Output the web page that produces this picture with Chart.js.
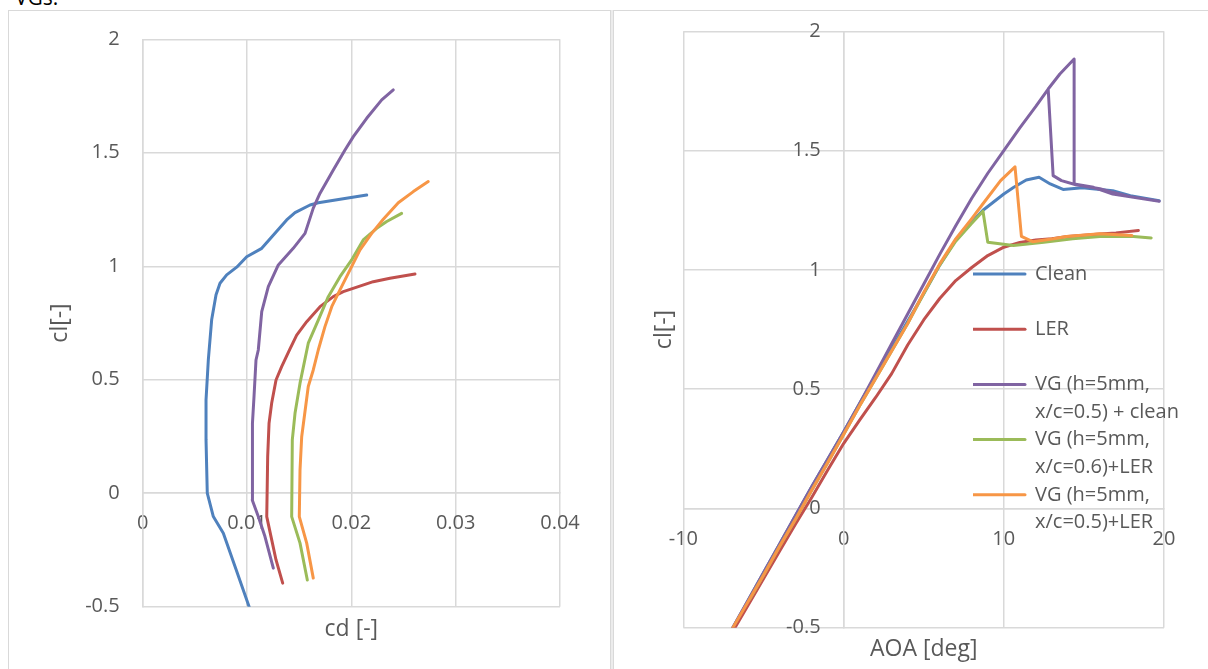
<!DOCTYPE html>
<html>
<head>
<meta charset="utf-8">
<script src="https://cdn.jsdelivr.net/npm/chart.js@4.4.1/dist/chart.umd.min.js"></script>
<style>
  html, body { margin: 0; padding: 0; background: #ffffff; }
  body { width: 1208px; height: 669px; overflow: hidden; position: relative; font-family: 'Open Sans', sans-serif; }
  #cap { position: absolute; left: 15px; top: -14px; font-size: 21px; line-height: 22px; color: #000; white-space: nowrap; }
  .rule { position: absolute; background: #d9d9d9; }
  #c1 { position: absolute; left: 0; top: 0; }
  #c2 { position: absolute; left: 613px; top: 0; }
</style>
</head>
<body>
<div id="cap">VGs.</div>
<canvas id="c1" width="610" height="669"></canvas>
<canvas id="c2" width="595" height="669"></canvas>
<div class="rule" style="left:8px;top:10px;width:1200px;height:1px;"></div>
<div class="rule" style="left:8px;top:10px;width:1px;height:659px;"></div>
<div class="rule" style="left:610px;top:10px;width:4px;height:659px;background:#ececec;"></div>
<div class="rule" style="left:610px;top:10px;width:1px;height:659px;"></div>
<div class="rule" style="left:613px;top:10px;width:1px;height:659px;"></div>
<script>
// ---------- series names / legend text ----------
const seriesNames = [
  'Clean',
  'LER',
  'VG (h=5mm, x/c=0.5) + clean',
  'VG (h=5mm, x/c=0.6)+LER',
  'VG (h=5mm, x/c=0.5)+LER'
];
const legendLines = [
  ['Clean', ''],
  ['LER', ''],
  ['VG (h=5mm,', 'x/c=0.5) + clean'],
  ['VG (h=5mm,', 'x/c=0.6)+LER'],
  ['VG (h=5mm,', 'x/c=0.5)+LER']
];

// ---------- axis titles / ticks ----------
const leftXTitle = 'cd [-]';
const leftYTitle = 'cl[-]';
const rightXTitle = 'AOA [deg]';
const rightYTitle = 'cl[-]';
const cdTicks = [0, 0.04, 0.01];      // min, max, step
const clTicks = [-0.5, 2, 0.5];
const aoaTicks = [-10, 20, 10];

// ---------- left chart: drag polars (cd, cl) ----------
const cdClean = [0.0102, 0.00885, 0.00773, 0.00677, 0.00619, 0.00607, 0.00607, 0.00629, 0.00661, 0.00703, 0.00741, 0.00805, 0.00901, 0.00997, 0.01141, 0.01268, 0.0138, 0.0146, 0.01604, 0.01683, 0.02147];
const clPolarClean = [-0.50, -0.323, -0.176, -0.103, 0.0, 0.235, 0.411, 0.587, 0.764, 0.874, 0.925, 0.962, 0.996, 1.042, 1.079, 1.145, 1.204, 1.236, 1.270, 1.280, 1.314];

const cdLER = [0.01342, 0.01278, 0.0123, 0.01189, 0.01198, 0.01211, 0.01236, 0.01278, 0.01332, 0.01412, 0.01476, 0.01572, 0.017, 0.01827, 0.01923, 0.02067, 0.0221, 0.0237, 0.0261];
const clPolarLER = [-0.396, -0.294, -0.191, -0.103, 0.161, 0.308, 0.396, 0.499, 0.558, 0.636, 0.697, 0.756, 0.822, 0.866, 0.888, 0.910, 0.932, 0.947, 0.966];

const cdVGClean = [0.01252, 0.01172, 0.01108, 0.0105, 0.0105, 0.01054, 0.01067, 0.01086, 0.01108, 0.01141, 0.01204, 0.013, 0.01443, 0.01556, 0.01635, 0.017, 0.01827, 0.01939, 0.02019, 0.02147, 0.02291, 0.02402];
const clPolarVGClean = [-0.330, -0.191, -0.103, -0.03, 0.132, 0.308, 0.426, 0.587, 0.631, 0.800, 0.910, 1.006, 1.079, 1.145, 1.256, 1.322, 1.424, 1.512, 1.571, 1.652, 1.733, 1.777];

const cdVG06LER = [0.01578, 0.01508, 0.01428, 0.01434, 0.0146, 0.01508, 0.01587, 0.01683, 0.01779, 0.01891, 0.02003, 0.02114, 0.02243, 0.02339, 0.02482];
const clPolarVG06LER = [-0.382, -0.220, -0.103, 0.235, 0.352, 0.485, 0.661, 0.763, 0.866, 0.954, 1.028, 1.116, 1.167, 1.197, 1.233];

const cdVG05LER = [0.01635, 0.01572, 0.01501, 0.01508, 0.01524, 0.01587, 0.01635, 0.01683, 0.01747, 0.01812, 0.01891, 0.01987, 0.02083, 0.02195, 0.02306, 0.0245, 0.02594, 0.02737];
const clPolarVG05LER = [-0.374, -0.220, -0.103, 0.103, 0.249, 0.470, 0.543, 0.631, 0.734, 0.822, 0.896, 0.984, 1.072, 1.145, 1.207, 1.280, 1.329, 1.373];

// ---------- right chart: lift curves (AOA, cl) ----------
const aoaClean = [-7, -6, -5, -4, -3, -2, -1, 0, 1, 2, 3, 4, 5, 6, 7, 8, 8.7, 10, 10.6, 11.4, 12.2, 12.9, 13.7, 14.9, 16.8, 17.9, 19.7];
const clClean = [-0.51, -0.39, -0.27, -0.15, -0.03, 0.09, 0.205, 0.32, 0.44, 0.555, 0.67, 0.785, 0.90, 1.02, 1.125, 1.20, 1.25, 1.318, 1.345, 1.377, 1.388, 1.36, 1.337, 1.344, 1.332, 1.311, 1.29];

const aoaLER = [-7, -6, -5, -4, -3, -2, -1, 0, 1, 2, 3, 4, 5, 6, 7, 8, 9, 10, 11, 12, 13, 14, 15, 16, 17, 18.4];
const clLER = [-0.525, -0.41, -0.295, -0.18, -0.065, 0.045, 0.16, 0.272, 0.37, 0.465, 0.565, 0.685, 0.79, 0.88, 0.955, 1.01, 1.06, 1.095, 1.115, 1.125, 1.13, 1.14, 1.145, 1.15, 1.155, 1.165];

const aoaVGClean = [-7, -6, -5, -4, -3, -2, -1, 0, 1, 2, 3, 4, 5, 6, 7, 8, 9, 10, 11, 12, 12.77, 13.5, 14.39, 14.39, 15.6, 16.8, 18.1, 19.7, 18.0, 16.8, 16.0, 14.5, 13.6, 13.08, 12.77];
const clVGClean = [-0.51, -0.39, -0.27, -0.15, -0.03, 0.09, 0.205, 0.32, 0.44, 0.565, 0.69, 0.815, 0.94, 1.065, 1.185, 1.30, 1.405, 1.50, 1.595, 1.685, 1.758, 1.821, 1.884, 1.36, 1.346, 1.318, 1.304, 1.288, 1.305, 1.325, 1.34, 1.357, 1.374, 1.395, 1.758];

const aoaVG06LER = [-5.85, -5, -4, -3, -2, -1, 0, 1, 2, 3, 4, 5, 6, 7, 8, 8.7, 9.0, 10.6, 12.5, 14.3, 16.0, 18.1, 19.2];
const clVG06LER = [-0.38, -0.28, -0.16, -0.045, 0.075, 0.19, 0.31, 0.43, 0.545, 0.66, 0.775, 0.90, 1.02, 1.12, 1.195, 1.246, 1.116, 1.102, 1.116, 1.130, 1.14, 1.140, 1.134];

const aoaVG05LER = [-7, -6, -5, -4, -3, -2, -1, 0, 1, 2, 3, 4, 5, 6, 7, 8, 8.7, 9.8, 10.7, 11.1, 11.8, 13.1, 13.9, 16.0, 18.0];
const clVG05LER = [-0.51, -0.395, -0.28, -0.16, -0.045, 0.075, 0.19, 0.31, 0.43, 0.545, 0.66, 0.775, 0.905, 1.025, 1.13, 1.215, 1.277, 1.374, 1.432, 1.14, 1.118, 1.130, 1.140, 1.151, 1.144];

// ---------- styles ----------
const colors = ['#4f81bd', '#c0504d', '#8064a2', '#9bbb59', '#f79646'];
const gridColor = '#d9d9d9';
const textColor = '#595959';
const FONT = "'Open Sans', sans-serif";
Chart.defaults.font.family = FONT;
Chart.defaults.color = textColor;

const LABEL_GAP = 23;          // px between y tick labels and the y axis line
const LEFT_PLOT_W = 417.3;     // px width of left plot area
const RIGHT_PLOT_W = 480.6;    // px width of right plot area

function fmt(v) { return String(+v.toFixed(4)); }
function pts(xs, ys) { return xs.map((x, i) => ({ x: x, y: ys[i] })); }
function series(i, xs, ys) {
  return {
    label: seriesNames[i], data: pts(xs, ys),
    borderColor: colors[i], backgroundColor: colors[i], borderWidth: 3,
    showLine: true, pointRadius: 0, pointHoverRadius: 0, tension: 0,
    borderCapStyle: 'round', borderJoinStyle: 'round',
    order: 5 - i, xAxisID: 'x', yAxisID: 'y'
  };
}
function valueAxis(pos, range, pad, showTicks) {
  return {
    type: 'linear', position: pos, min: range[0], max: range[1],
    ticks: { display: showTicks, stepSize: range[2], padding: pad, color: textColor, font: { size: 20 }, callback: fmt },
    grid: { color: gridColor, lineWidth: 1.5, drawTicks: false, tickLength: 0 },
    border: { color: gridColor, width: 1.5 }
  };
}
// y tick labels placed LABEL_GAP px left of the axis at x = 0
function labelAxis(range, xRange, plotW) {
  const off = -LABEL_GAP * (xRange[1] - xRange[0]) / plotW;
  return {
    type: 'linear', axis: 'y', position: { x: off }, min: range[0], max: range[1],
    ticks: { stepSize: range[2], color: textColor, font: { size: 20 }, callback: fmt },
    grid: { display: false, drawTicks: false, tickLength: 0 },
    border: { display: false }
  };
}
function titleAxis(axis, pos, text, pad) {
  return {
    type: 'linear', axis: axis, position: pos, display: true, min: 0, max: 1,
    ticks: { display: false },
    grid: { display: false, drawTicks: false, tickLength: 0 },
    border: { display: false },
    title: { display: true, text: text, color: textColor, font: { size: 23, lineHeight: 1.2 }, padding: pad }
  };
}

// ---------- left chart ----------
new Chart(document.getElementById('c1'), {
  type: 'scatter',
  data: { datasets: [
    series(0, cdClean, clPolarClean),
    series(1, cdLER, clPolarLER),
    series(2, cdVGClean, clPolarVGClean),
    series(3, cdVG06LER, clPolarVG06LER),
    series(4, cdVG05LER, clPolarVG05LER)
  ] },
  options: {
    responsive: false, animation: false, events: [],
    layout: { padding: { left: 46.2, top: 39.3, right: 50, bottom: 26.2 } },
    plugins: { legend: { display: false }, tooltip: { enabled: false } },
    scales: {
      x: valueAxis({ y: 0 }, cdTicks, 18.5, true),
      y: valueAxis({ x: 0 }, clTicks, 0, false),
      yl: labelAxis(clTicks, cdTicks, LEFT_PLOT_W),
      xt: titleAxis('x', 'bottom', leftXTitle, { top: 8.5, bottom: 0 }),
      yt: titleAxis('y', 'left', leftYTitle, { top: 0, bottom: 68.9 })
    }
  }
});

// ---------- right chart ----------
const LEG_LEFT = 360, LEG_TOP = 264;
const legendPlacer = {
  id: 'legendPlacer',
  beforeDraw(chart) {
    const lg = chart.legend;
    if (!lg) return;
    lg.left = LEG_LEFT; lg.top = LEG_TOP;
    lg.right = chart.width; lg.bottom = chart.height;
    lg.width = lg.right - lg.left; lg.height = lg.bottom - lg.top;
  }
};

new Chart(document.getElementById('c2'), {
  type: 'scatter',
  data: { datasets: [
    series(0, aoaClean, clClean),
    series(1, aoaLER, clLER),
    series(2, aoaVGClean, clVGClean),
    series(3, aoaVG06LER, clVG06LER),
    series(4, aoaVG05LER, clVG05LER)
  ] },
  options: {
    responsive: false, animation: false, events: [],
    layout: { padding: { left: 37.2, top: 31.3, right: 44, bottom: 5.7 } },
    plugins: {
      tooltip: { enabled: false },
      legend: {
        display: true, position: 'chartArea', align: 'start',
        labels: {
          usePointStyle: true, pointStyle: 'line', pointStyleWidth: 52,
          padding: 0, color: textColor, textAlign: 'left',
          font: { size: 20, lineHeight: 1.38 },
          generateLabels(chart) {
            const items = Chart.defaults.plugins.legend.labels.generateLabels(chart);
            items.forEach(it => {
              it.text = legendLines[it.datasetIndex];
              it.strokeStyle = colors[it.datasetIndex];
              it.fillStyle = colors[it.datasetIndex];
              it.lineWidth = 3;
              it.pointStyle = 'line';
              it.lineCap = 'round';
            });
            return items;
          },
          sort: (a, b) => a.datasetIndex - b.datasetIndex
        }
      }
    },
    scales: {
      x: valueAxis({ y: 0 }, aoaTicks, 18.5, true),
      y: valueAxis({ x: 0 }, clTicks, 0, false),
      yl: labelAxis(clTicks, aoaTicks, RIGHT_PLOT_W),
      xt: titleAxis('x', 'bottom', rightXTitle, { top: 8, bottom: 0 }),
      yt: titleAxis('y', 'left', rightYTitle, { top: 0, bottom: 5.6 })
    }
  },
  plugins: [legendPlacer]
});
</script>
</body>
</html>
